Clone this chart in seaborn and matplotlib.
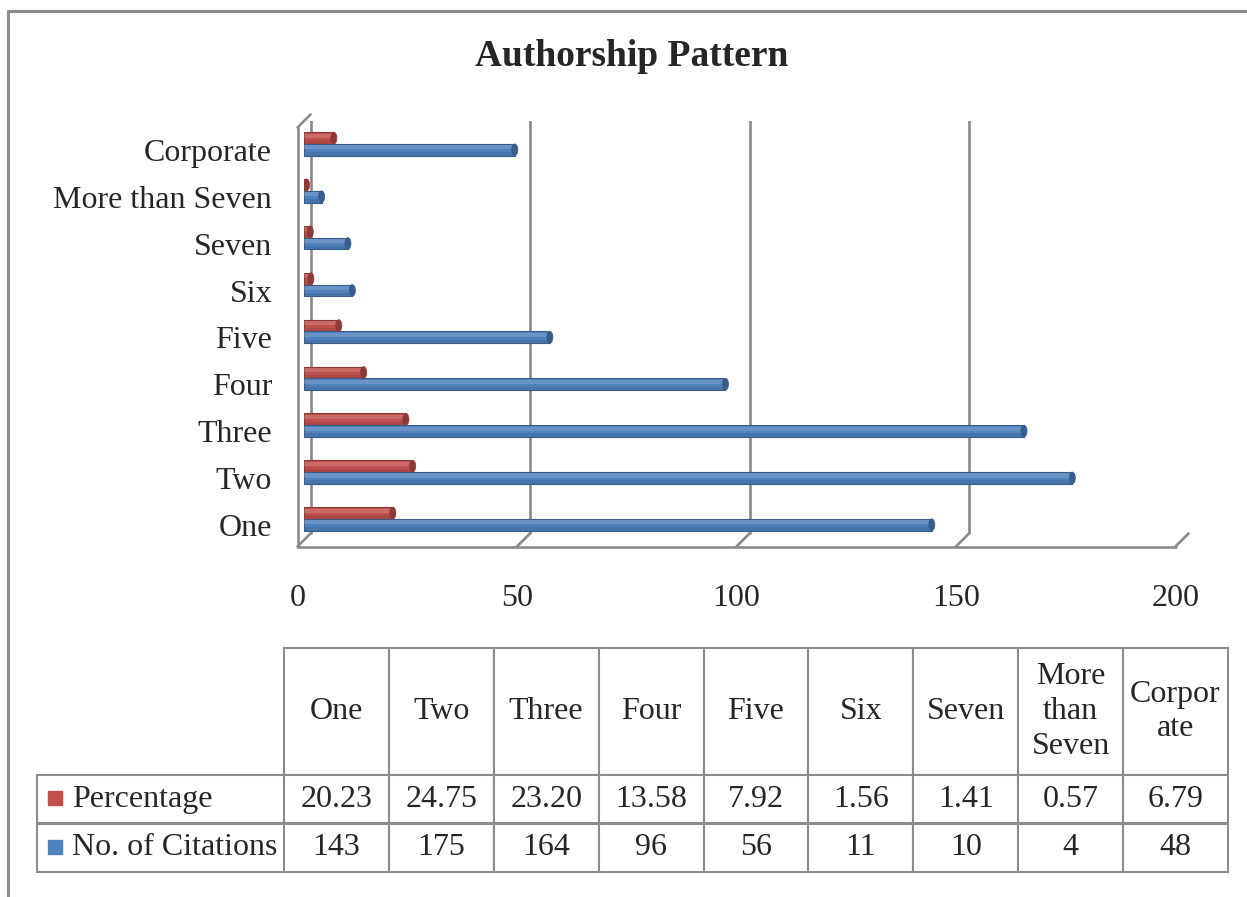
import pandas as pd
import matplotlib.pyplot as plt
import seaborn as sns
from matplotlib.lines import Line2D
from matplotlib.patches import Rectangle, Ellipse
from matplotlib.transforms import ScaledTranslation

# chart data
categories = ['One', 'Two', 'Three', 'Four', 'Five', 'Six', 'Seven', 'More than Seven', 'Corporate']
citations = [143, 175, 164, 96, 56, 11, 10, 4, 48]
percentage = [20.23, 24.75, 23.20, 13.58, 7.92, 1.56, 1.41, 0.57, 6.79]
header_labels = ['One', 'Two', 'Three', 'Four', 'Five', 'Six', 'Seven', 'More\nthan\nSeven', 'Corpor\nate']
series_names = ['Percentage', 'No. of Citations']
x_ticks = [0, 50, 100, 150, 200]

red = '#C0504D'
blue = '#4F81BD'
grid_col = '#8a8a8a'

sns.set_style('white')
plt.rcParams['font.family'] = ['Liberation Serif', 'DejaVu Serif']

df = pd.DataFrame({
    'category': categories * 2,
    'series': [series_names[0]] * len(categories) + [series_names[1]] * len(categories),
    'value': percentage + citations,
})

fig = plt.figure(figsize=(12.47, 8.97), dpi=100)
ax = fig.add_axes([304 / 1247, 1 - 540 / 897, 878 / 1247, 419 / 897])

sns.barplot(data=df, x='value', y='category', hue='series', order=categories[::-1],
            hue_order=series_names, palette=[red, blue], orient='h', width=0.5,
            saturation=1, errorbar=None, legend=False, ax=ax)

# cylinder-ish shading on the bars, with a rounded end cap
for p in list(ax.patches):
    fc = p.get_facecolor()
    dark = tuple(c * 0.72 for c in fc[:3])
    p.set_edgecolor(dark)
    p.set_linewidth(0.8)
    h = p.get_height()
    y = p.get_y()
    w = p.get_width()
    z = p.get_zorder()
    ax.add_patch(Rectangle((p.get_x(), y + 0.12 * h), w, 0.35 * h,
                           facecolor='white', alpha=0.15, linewidth=0, zorder=z + 0.1))
    ax.add_patch(Rectangle((p.get_x(), y + 0.7 * h), w, 0.3 * h,
                           facecolor=dark, alpha=0.35, linewidth=0, zorder=z + 0.1))
    ax.add_patch(Ellipse((p.get_x() + w, y + h / 2), 1.4, h, facecolor=dark,
                         edgecolor=dark, linewidth=0.5, zorder=z + 0.2))

ax.set_xlim(0, 200)
ax.set_ylim(8.45, -0.49)
ax.set_xticks(x_ticks)
ax.set_xlabel('')
ax.set_ylabel('')
for s in ax.spines.values():
    s.set_visible(False)
ax.tick_params(axis='both', length=0, labelsize=23)
ax.tick_params(axis='x', pad=32)
ax.tick_params(axis='y', pad=23)

# pseudo 3D frame: back wall gridlines, floor and left wall
back = ScaledTranslation(0.065, 0.065, fig.dpi_scale_trans)
front = ScaledTranslation(-0.065, -0.065, fig.dpi_scale_trans)
xt = ax.get_xaxis_transform()


def diag(xv, yv):
    x0, y0 = (xt + front).transform((xv, yv))
    x1, y1 = (xt + back).transform((xv, yv))
    fw = fig.dpi * fig.get_figwidth()
    fh = fig.dpi * fig.get_figheight()
    fig.add_artist(Line2D([x0 / fw, x1 / fw], [y0 / fh, y1 / fh],
                          transform=fig.transFigure, color=grid_col, lw=1.9))


for xv in x_ticks:
    ax.plot([xv, xv], [0, 1], transform=xt + back, color=grid_col, lw=1.9, zorder=0,
            solid_capstyle='butt')
    diag(xv, 0)
ax.plot([0, 200], [0, 0], transform=xt + front, color=grid_col, lw=1.9, clip_on=False)
ax.plot([0, 0], [0, 1], transform=xt + front, color=grid_col, lw=1.9, clip_on=False)
diag(0, 1)

# shift tick labels to sit like the original
for lab in ax.get_xticklabels():
    lab.set_transform(lab.get_transform() + ScaledTranslation(-0.065, 0, fig.dpi_scale_trans))
for lab in ax.get_yticklabels():
    lab.set_transform(lab.get_transform() + ScaledTranslation(0, -0.06, fig.dpi_scale_trans))

fig.text(632 / 1247, 1 - 56 / 897, 'Authorship Pattern', ha='center', va='center',
         fontsize=27, fontweight='bold')

# data table: first column holds the series names, its header cell is left open
tw, th = 1191, 224
tax = fig.add_axes([37 / 1247, 1 - 872 / 897, tw / 1247, th / 897])
tax.axis('off')
rows = [[series_names[0]] + [f'{v:.2f}' for v in percentage],
        [series_names[1]] + [str(v) for v in citations]]
label_w = 247 / tw
col_w = (1 - label_w) / len(categories)
tbl = tax.table(cellText=rows, colLabels=[''] + header_labels,
                colWidths=[label_w] + [col_w] * len(categories),
                cellLoc='center', bbox=[0, 0, 1, 1])
tbl.auto_set_font_size(False)
for (r, c), cell in tbl.get_celld().items():
    cell.set_height(127 / th if r == 0 else 48.5 / th)
    cell.set_edgecolor('#8c8c8c')
    cell.set_linewidth(1.5)
    cell.get_text().set_fontsize(23)
    if r == 0:
        cell.get_text().set_linespacing(1.27)
    if c == 0:
        if r == 0:
            cell.visible_edges = ''
        else:
            cell._loc = 'left'
            cell.get_text().set_ha('left')
            cell.PAD = 0.142
tax.scatter([18 / tw, 18 / tw], [(872 - 798) / th, (872 - 847) / th],
            marker='s', s=115, c=[red, blue], transform=tax.transAxes, zorder=5,
            clip_on=False)

# outer chart border (top and left only visible)
fig.add_artist(Line2D([8 / 1247, 1], [1 - 11 / 897, 1 - 11 / 897], transform=fig.transFigure,
                      color='#8c8c8c', lw=2.2))
fig.add_artist(Line2D([8 / 1247, 8 / 1247], [0, 1 - 11 / 897], transform=fig.transFigure,
                      color='#8c8c8c', lw=2.2))

plt.savefig('out.png', dpi=100)
plt.close()
